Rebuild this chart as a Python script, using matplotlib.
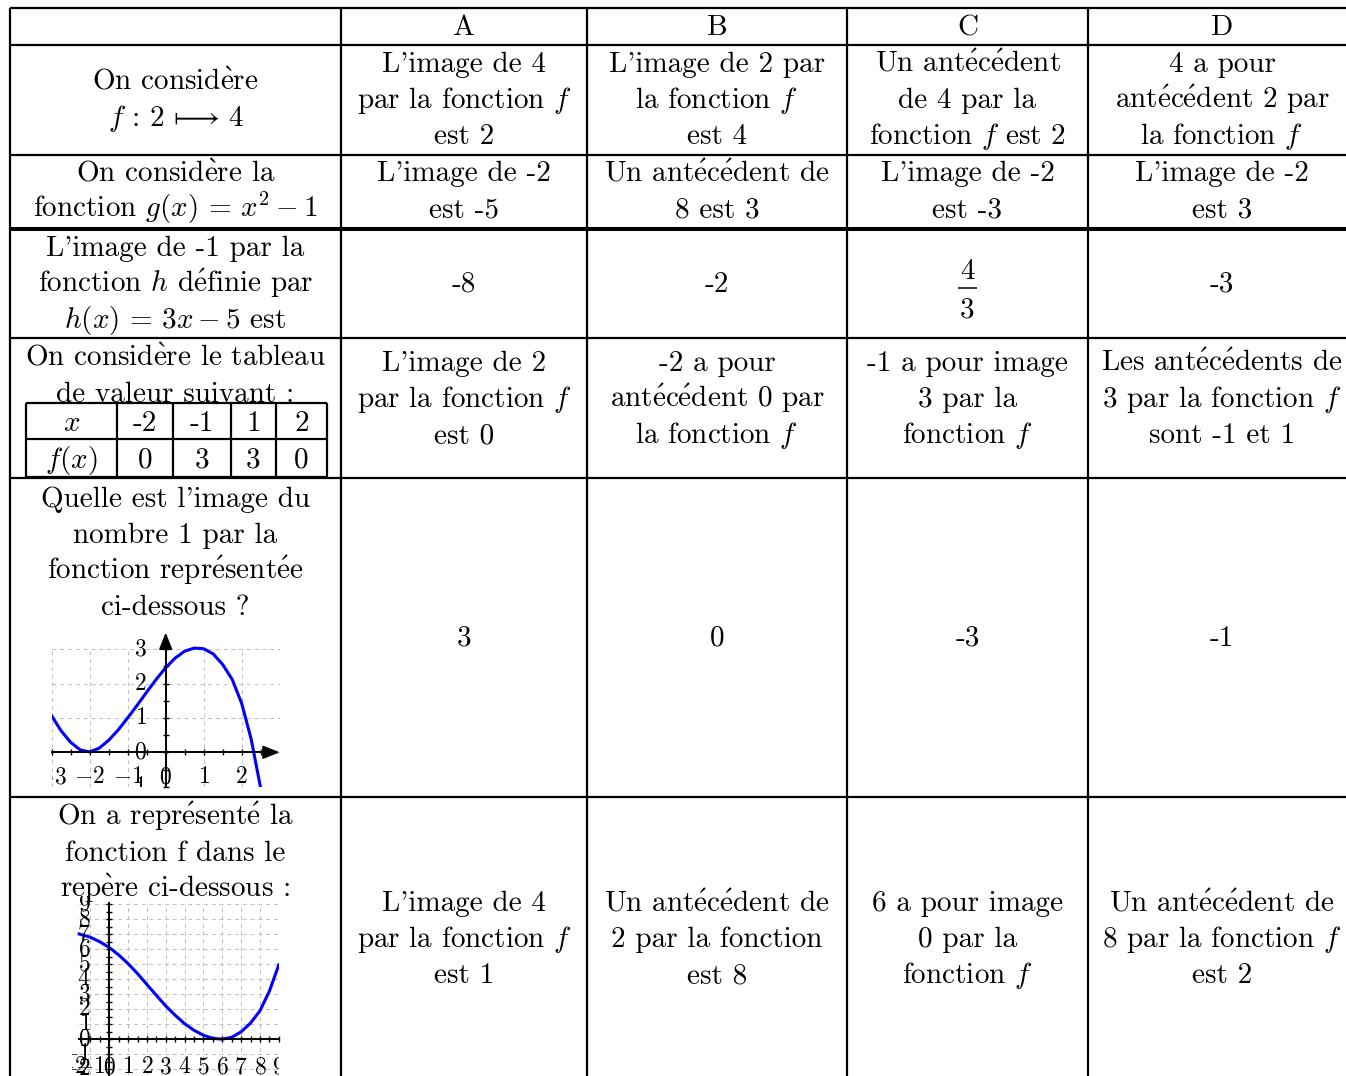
import numpy as np
import matplotlib
matplotlib.use("Agg")
import matplotlib.pyplot as plt

plt.rcParams["font.family"] = ["cmr10", "STIXGeneral"]
plt.rcParams["mathtext.fontset"] = "cm"

W, H = 1346, 1076

# ---- table content ----
letters = ["A", "B", "C", "D"]

questions = [
    ["On considère", r"$f\,:\,2\,\longmapsto\,4$"],
    ["On considère la", r"fonction $g(x)\,=\,x^2 - 1$"],
    ["L'image de -1 par la", r"fonction $h$ définie par", r"$h(x)\,=\,3x - 5$ est"],
    ["On considère le tableau", "de valeur suivant :"],
    ["Quelle est l'image du", "nombre 1 par la", "fonction représentée", "ci-dessous ?"],
    ["On a représenté la", "fonction f dans le", "repère ci-dessous :"],
]

answers = [
    [["L'image de 4", "par la fonction $f$", "est 2"],
     ["L'image de 2 par", "la fonction $f$", "est 4"],
     ["Un antécédent", "de 4 par la", "fonction $f$ est 2"],
     ["4 a pour", "antécédent 2 par", "la fonction $f$"]],
    [["L'image de -2", "est -5"],
     ["Un antécédent de", "8 est 3"],
     ["L'image de -2", "est -3"],
     ["L'image de -2", "est 3"]],
    [["-8"], ["-2"], ["4/3"], ["-3"]],
    [["L'image de 2", "par la fonction $f$", "est 0"],
     ["-2 a pour", "antécédent 0 par", "la fonction $f$"],
     ["-1 a pour image", "3 par la", "fonction $f$"],
     ["Les antécédents de", "3 par la fonction $f$", "sont -1 et 1"]],
    [["3"], ["0"], ["-3"], ["-1"]],
    [["L'image de 4", "par la fonction $f$", "est 1"],
     ["Un antécédent de", "2 par la fonction", "est 8"],
     ["6 a pour image", "0 par la", "fonction $f$"],
     ["Un antécédent de", "8 par la fonction $f$", "est 2"]],
]

# value table of question 4
tab_x = [-2, -1, 1, 2]
tab_fx = [0, 3, 3, 0]

# curve of question 5
x1 = [-3, -2.75, -2.5, -2.25, -2, -1.75, -1.5, -1.25, -1, -0.75, -0.5, -0.25,
      0, 0.25, 0.5, 0.75, 1, 1.25, 1.5, 1.75, 2, 2.25, 2.5]
y1 = [1.06, 0.62, 0.29, 0.07, 0.01, 0.12, 0.35, 0.65, 1.0, 1.37, 1.75, 2.12,
      2.46, 2.74, 2.94, 3.03, 3.01, 2.86, 2.55, 2.12, 1.42, 0.38, -1.05]

# curve of question 6
x2 = [-1.6, -1, -0.5, 0, 0.5, 1, 1.5, 2, 2.5, 3, 3.5, 4, 4.5, 5, 5.5, 6,
      6.5, 7, 7.5, 8, 8.5, 9]
y2 = [7.02, 6.8, 6.5, 6.12, 5.62, 5.04, 4.38, 3.65, 2.93, 2.22, 1.6, 1.04,
      0.6, 0.27, 0.06, 0.01, 0.13, 0.5, 1.08, 1.9, 3.2, 4.96]


def fr(s):
    # accents drawn with Computer Modern glyphs
    return s.replace("é", r"$\mathrm{\acute{e}}$").replace("è", r"$\mathrm{\grave{e}}$")


fig = plt.figure(figsize=(W / 100, H / 100), dpi=100)
ax = fig.add_axes([0, 0, 1, 1])
ax.set_xlim(0, W)
ax.set_ylim(H, 0)
ax.axis("off")

# -----grid of the table-----
col_x = [10, 341, 587, 847, 1088, 1360]
row_y = [8, 45, 155, 229, 338, 478, 797]
ax.vlines(col_x, row_y[0], H + 10, colors="black", lw=1.6)
for y in row_y:
    ax.hlines(y, col_x[0], col_x[-1], colors="black", lw=2.9 if y == 229 else 1.6)

col_c = [175.5, 464, 717, 967.5, 1222]
q_base = [90, 181, 256, 366, 507, 825]
a_base = [72, 181, 292, 371, 646, 911]
step = 36
fs = 21


def cell(lines, cx, y0):
    for i, s in enumerate(lines):
        ax.text(cx, y0 + step * i, fr(s), ha="center", va="baseline", fontsize=fs)


for j, l in enumerate(letters):
    ax.text(col_c[j + 1], 35, l, ha="center", va="baseline", fontsize=fs)

for i, q in enumerate(questions):
    cell(q, col_c[0], q_base[i])
    for j, a in enumerate(answers[i]):
        cx = col_c[j + 1]
        if "/" in a[0]:
            num, den = a[0].split("/")
            ax.text(cx, 279, num, ha="center", va="baseline", fontsize=fs)
            ax.text(cx, 317, den, ha="center", va="baseline", fontsize=fs)
            ax.hlines(287.5, cx - 9.5, cx + 9.5, colors="black", lw=1.1)
        else:
            cell(a, cx, a_base[i])

# -----inner value table-----
in_x = [26, 117, 173, 231, 276, 327]
in_y = [403, 439, 477]
ax.vlines(in_x, in_y[0], in_y[-1], colors="black", lw=1.6)
ax.hlines(in_y, in_x[0], in_x[-1], colors="black", lw=1.6)
row_top = ["$x$"] + [str(v) for v in tab_x]
row_bot = ["$f(x)$"] + [str(v) for v in tab_fx]
for k in range(5):
    cx = (in_x[k] + in_x[k + 1]) / 2
    ax.text(cx, 431, row_top[k], ha="center", va="baseline", fontsize=fs)
    ax.text(cx, 468, row_bot[k], ha="center", va="baseline", fontsize=fs)


def inset(ox, oy, ux, uy, xlim, ylim):
    # ox, oy: pixel position of the origin, ux, uy: pixels per unit
    left = ox + ux * xlim[0]
    right = ox + ux * xlim[1]
    top = oy - uy * ylim[1]
    bot = oy - uy * ylim[0]
    a = fig.add_axes([left / W, 1 - bot / H, (right - left) / W, (bot - top) / H])
    a.set_xlim(*xlim)
    a.set_ylim(*ylim)
    a.patch.set_alpha(0)
    a.spines["top"].set_visible(False)
    a.spines["right"].set_visible(False)
    a.spines["left"].set_position(("data", 0))
    a.spines["bottom"].set_position(("data", 0))
    a.spines["left"].set_linewidth(1.4)
    a.spines["bottom"].set_linewidth(1.4)
    a.tick_params(direction="inout", length=4, width=1.0,
                  labelbottom=False, labelleft=False)
    return a


grid_kw = dict(colors="#bdbdbd", lw=0.7, linestyles=(0, (4, 4)), zorder=0)
lab_fs = 17

# -----graph of question 5-----
p1 = inset(165.7, 752.3, 38.0, 34.4, (-3, 3), (-1, 3.55))
p1.spines["left"].set_bounds(-1, 3.3)
p1.spines["bottom"].set_bounds(-3, 2.8)
p1.set_xticks(np.arange(-3, 2.6, 0.5))
p1.set_yticks(np.arange(-1, 3.1, 0.5))
p1.vlines(range(-3, 4), -1, 3, **grid_kw)
p1.hlines(range(-1, 4), -3, 3, **grid_kw)
arrow = dict(arrowstyle="-|>,head_length=1.0,head_width=0.4", color="black",
             lw=1.4, shrinkA=0, shrinkB=0)
p1.annotate("", xy=(3, 0), xytext=(2.7, 0), arrowprops=arrow, annotation_clip=False)
p1.annotate("", xy=(0, 3.48), xytext=(0, 3.2), arrowprops=arrow, annotation_clip=False)
p1.plot(x1, y1, color="#0000ff", lw=2.2, clip_on=True, solid_joinstyle="round")
for v in [-3, -2, -1, 0, 1, 2]:
    p1.text(v, -0.72, f"${v}$", ha="center", va="center", fontsize=lab_fs, clip_on=True)
for v in [-1, 0, 1, 2, 3]:
    p1.text(-0.5, v, f"${v}$", ha="right", va="center", fontsize=lab_fs, clip_on=True)

# -----graph of question 6-----
p2 = inset(109.3, 1039.3, 18.83, 15.0, (-2, 9.02), (-2.4, 9.55))
p2.spines["left"].set_bounds(-2.4, 9.07)
p2.spines["bottom"].set_bounds(-1.6, 9.02)
p2.set_xticks(np.arange(-1.5, 9.1, 0.5))
p2.set_yticks(np.arange(-2, 9.1, 0.5))
p2.vlines(range(-1, 10), -2.4, 9.07, **grid_kw)
p2.hlines(range(-2, 10), -1.6, 9.02, **grid_kw)
p2.plot(x2, y2, color="#0000ff", lw=2.2, clip_on=True, solid_joinstyle="round")
for v in range(-2, 10):
    p2.text(v, -1.85, f"${v}$", ha="center", va="center", fontsize=lab_fs, clip_on=True)
for v in range(-2, 10):
    p2.text(-1.0, v, f"${v}$", ha="right", va="center", fontsize=lab_fs, clip_on=True)

fig.savefig("out.png", dpi=100)
